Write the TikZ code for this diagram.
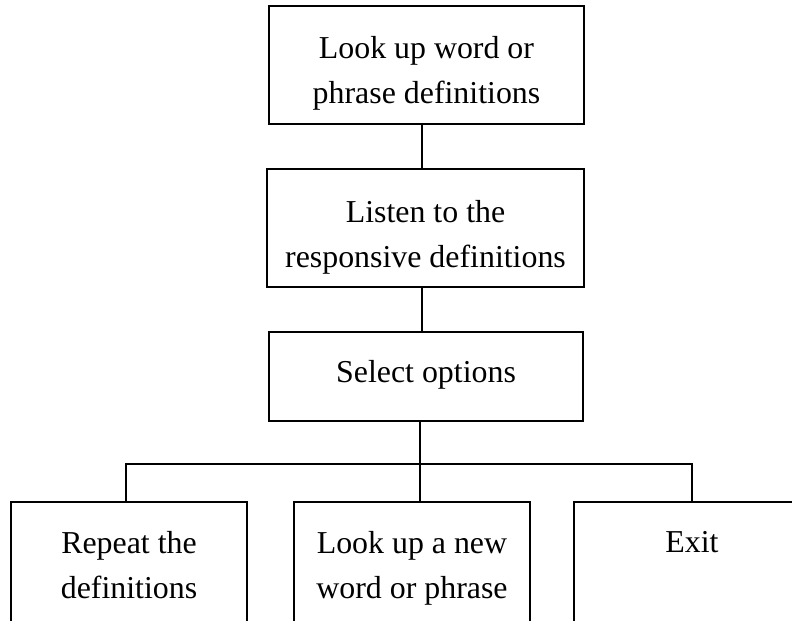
\documentclass[tikz,border=0pt]{standalone}
\usepackage{fontspec}
\setmainfont{Liberation Serif}
\begin{document}
\begin{tikzpicture}[x=1bp,y=-1bp,
  boxline/.style={draw=black,line width=1.3bp},
  lbl/.style={anchor=north,align=center,inner sep=0pt,font=\fontsize{32}{46}\selectfont},
  conn/.style={draw=black,line width=1.3bp}]
\useasboundingbox (0,0) rectangle (792,621);
\clip (0,0) rectangle (792,621);
\coordinate (spineA) at (422,0);
\coordinate (spineB) at (420,0);
\coordinate (busL) at (126,464);
\coordinate (busR) at (692,464);
% boxes
\path[boxline] (269,6) rectangle (584,124);
\node[inner sep=0pt,minimum width=315bp,minimum height=118bp] (b1) at (426.5,65) {};
\path[boxline] (267,169) rectangle (584,287);
\node[inner sep=0pt,minimum width=317bp,minimum height=118bp] (b2) at (425.5,228) {};
\path[boxline] (269,332) rectangle (583,421);
\node[inner sep=0pt,minimum width=314bp,minimum height=89bp] (b3) at (426,376.5) {};
\path[boxline] (11,640) -- (11,502) -- (247,502) -- (247,640);
\node[inner sep=0pt,minimum width=236bp,minimum height=119bp] (b4) at (129,561.5) {};
\path[boxline] (294,640) -- (294,502) -- (530,502) -- (530,640);
\node[inner sep=0pt,minimum width=236bp,minimum height=119bp] (b5) at (412,561.5) {};
\path[boxline] (574,640) -- (574,502) -- (810,502);
\node[inner sep=0pt,minimum width=236bp,minimum height=119bp] (b6) at (692,561.5) {};
% labels
\node[lbl] (t1) at ([yshift=-30bp]b1.north) {Look up word or\\phrase definitions};
\node[lbl] (t2) at ([yshift=-31bp]b2.north) {Listen to the\\responsive definitions};
\node[lbl] (t3) at ([yshift=-28bp]b3.north) {Select options};
\node[lbl] (t4) at ([yshift=-29bp]b4.north) {Repeat the\\definitions};
\node[lbl] (t5) at ([yshift=-29bp]b5.north) {Look up a new\\word or phrase};
\node[lbl] (t6) at ([yshift=-29bp]b6.north) {Exit};
% connectors
\draw[conn] (b1.south -| spineA) -- (b2.north -| spineA);
\draw[conn] (b2.south -| spineA) -- (b3.north -| spineA);
\draw[conn] (b3.south -| spineB) -- (b5.north -| spineB);
\draw[conn] (b4.north -| busL) -- (busL) -- (busR) -- (b6.north -| busR);
\end{tikzpicture}
\end{document}
